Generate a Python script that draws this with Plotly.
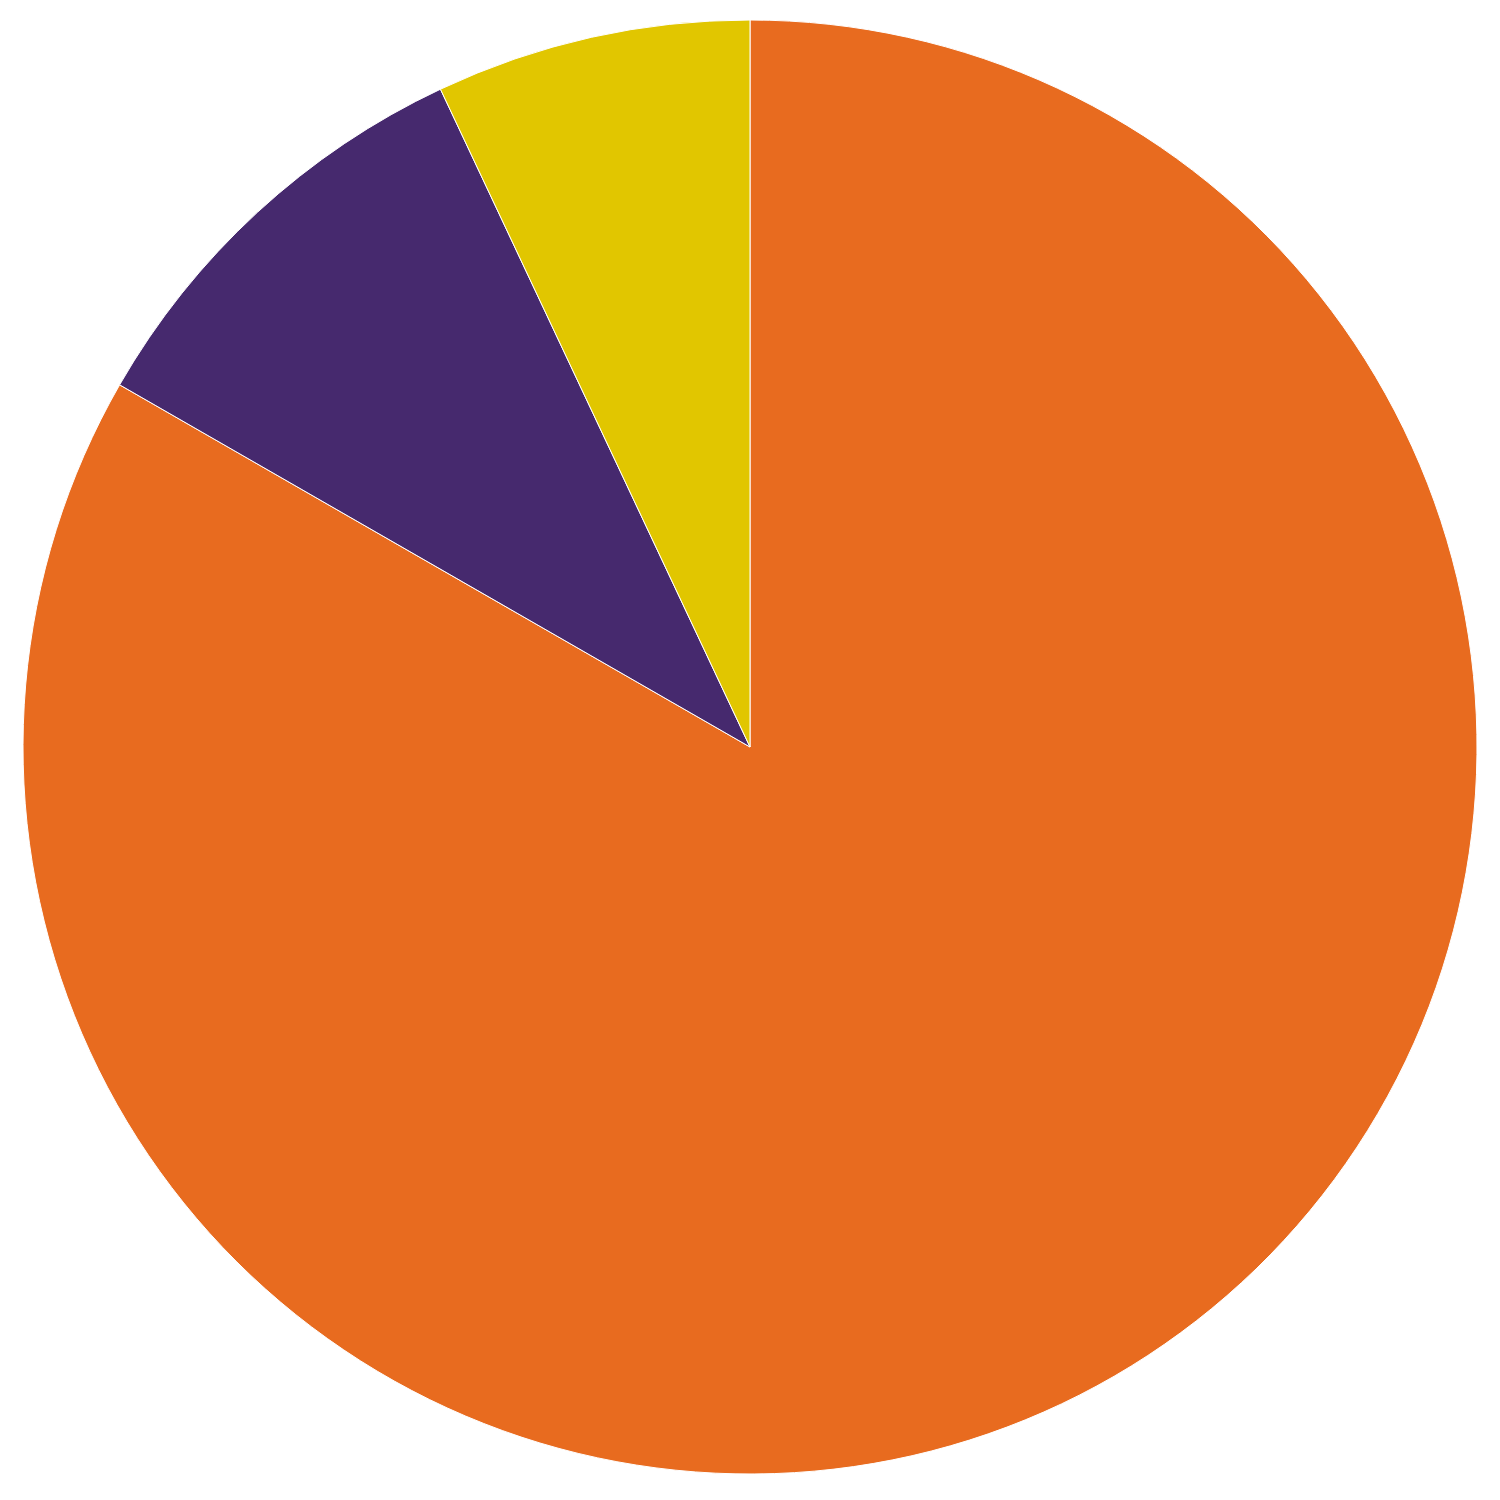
import plotly.graph_objects as go

labels = ["Orange", "Purple", "Yellow"]
values = [83.3, 9.7, 7.0]
colors = ["#e86b1f", "#46296e", "#e1c600"]

fig = go.Figure(go.Pie(
    labels=labels,
    values=values,
    sort=False,
    direction="clockwise",
    rotation=0,
    textinfo="none",
    hoverinfo="label+percent",
    marker=dict(colors=colors, line=dict(color="white", width=1)),
))

fig.update_layout(
    width=1500,
    height=1500,
    showlegend=False,
    paper_bgcolor="white",
    margin=dict(l=15, r=31, t=12, b=34),
)

fig.write_html("out.html")
